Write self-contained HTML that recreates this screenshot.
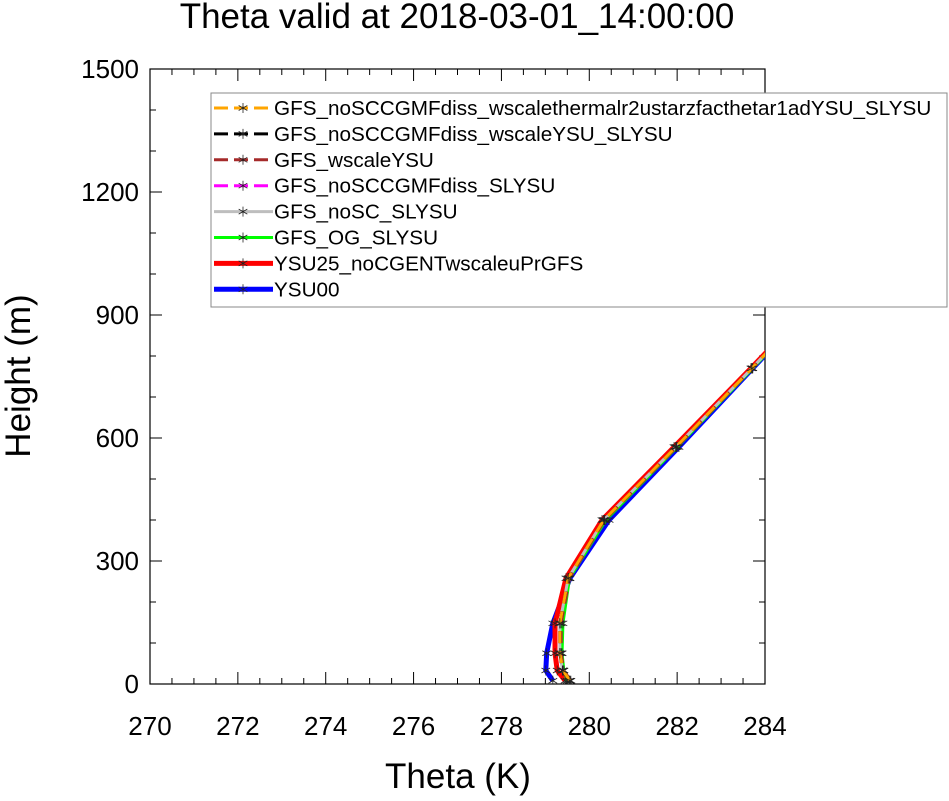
<!DOCTYPE html>
<html><head><meta charset="utf-8"><style>
body{margin:0;background:#fff;}
svg{font-family:"Liberation Sans",sans-serif;}
</style></head><body>
<svg id="chart" width="949" height="796" viewBox="0 0 949 796" xmlns="http://www.w3.org/2000/svg">
<defs><clipPath id="plotclip"><rect x="150" y="69" width="615" height="615"/></clipPath></defs>
<text x="457" y="28" font-size="35" text-anchor="middle">Theta valid at 2018-03-01_14:00:00</text>
<g id="axes"></g>
<g id="series" clip-path="url(#plotclip)"></g>
<text x="458" y="788" font-size="35" text-anchor="middle">Theta (K)</text>
<text transform="translate(30,376) rotate(-90)" font-size="35" text-anchor="middle">Height (m)</text>
<g id="legend"></g>
</svg>
<script>
const heights=[8,33,75,148,258,400,578,770,985];
const seriesNames=["GFS_noSCCGMFdiss_wscalethermalr2ustarzfacthetar1adYSU_SLYSU","GFS_noSCCGMFdiss_wscaleYSU_SLYSU","GFS_wscaleYSU","GFS_noSCCGMFdiss_SLYSU","GFS_noSC_SLYSU","GFS_OG_SLYSU","YSU25_noCGENTwscaleuPrGFS","YSU00"];
const sOrange=[279.56,279.40,279.33,279.33,279.52,280.33,281.97,283.70,285.6];
const sBlack=[279.55,279.39,279.33,279.33,279.52,280.33,281.97,283.70,285.6];
const sBrown=[279.58,279.42,279.36,279.36,279.55,280.35,281.99,283.71,285.6];
const sMagenta=[279.55,279.39,279.33,279.33,279.52,280.33,281.97,283.70,285.6];
const sGray=[279.55,279.39,279.33,279.33,279.52,280.33,281.97,283.70,285.6];
const sGreen=[279.50,279.42,279.38,279.40,279.55,280.38,282.00,283.72,285.6];
const sRed=[279.45,279.27,279.22,279.22,279.47,280.29,281.93,283.68,285.6];
const sBlue=[279.17,279.01,279.03,279.17,279.56,280.45,282.04,283.72,285.6];
const xTicks=[270,272,274,276,278,280,282,284];
const yTicks=[0,300,600,900,1200,1500];
const NS="http://www.w3.org/2000/svg";
const X0=150,X1=765,Y0=684,Y1=69;
const xs=t=>X0+(t-270)/14*(X1-X0);
const ys=h=>Y0-h/1500*(Y0-Y1);
function mk(tag,attrs,parent){const e=document.createElementNS(NS,tag);for(const k in attrs)e.setAttribute(k,attrs[k]);parent.appendChild(e);return e;}
const axes=document.getElementById('axes');
const frame=mk('rect',{x:X0,y:Y1,width:X1-X0,height:Y0-Y1,fill:'none',stroke:'#000','stroke-width':1.2},axes);


for(let t=270;t<=284.001;t+=0.5){const maj=Math.abs(t-Math.round(t/2)*2)<1e-6;const L=maj?12:6;const x=xs(t);
mk('line',{x1:x,y1:Y0,x2:x,y2:Y0-L,stroke:'#000','stroke-width':1},axes);
mk('line',{x1:x,y1:Y1,x2:x,y2:Y1+L,stroke:'#000','stroke-width':1},axes);}
for(let h=0;h<=1500;h+=100){const maj=h%300===0;const L=maj?12:6;const y=ys(h);
mk('line',{x1:X0,y1:y,x2:X0+L,y2:y,stroke:'#000','stroke-width':1},axes);
mk('line',{x1:X1,y1:y,x2:X1-L,y2:y,stroke:'#000','stroke-width':1},axes);}
xTicks.forEach(t=>{const e=mk('text',{x:xs(t),y:Y0+51,'font-size':26,'text-anchor':'middle'},axes);e.textContent=t;

});
yTicks.forEach(h=>{const e=mk('text',{x:X0-11,y:ys(h)+9,'font-size':26,'text-anchor':'end'},axes);e.textContent=h;

});
const styles=[
{d:sOrange,c:'#ffa500',w:3,dash:'12 8'},
{d:sBlack,c:'#000',w:3,dash:'12 8'},
{d:sBrown,c:'#a52a2a',w:3,dash:'12 8'},
{d:sMagenta,c:'#ff00ff',w:3,dash:'12 8'},
{d:sGray,c:'#bebebe',w:3,dash:''},
{d:sGreen,c:'#00ff00',w:3,dash:''},
{d:sRed,c:'#ff0000',w:5,dash:''},
{d:sBlue,c:'#0000ff',w:5,dash:''}];
const sg=document.getElementById('series');
function star(g,x,y){[[0,5],[60,5],[120,5]].forEach(([a,r])=>{const rad=a*Math.PI/180;mk('line',{x1:x-r*Math.sin(rad),y1:y-r*Math.cos(rad),x2:x+r*Math.sin(rad),y2:y+r*Math.cos(rad),stroke:'#222','stroke-width':0.8},g);});}
for(let i=styles.length-1;i>=0;i--){const s=styles[i];const g=mk('g',{},sg);


const pts=s.d.map((t,j)=>xs(t)+','+ys(heights[j])).join(' ');
mk('polyline',{points:pts,fill:'none',stroke:s.c,'stroke-width':s.w,'stroke-dasharray':s.dash},g);
s.d.forEach((t,j)=>star(g,xs(t),ys(heights[j])));}
const lg=document.getElementById('legend');
const box=mk('rect',{x:211,y:93,width:736,height:214,fill:'#fff',stroke:'#888','stroke-width':1},lg);


styles.forEach((s,i)=>{const y=108+i*25.9;const g=mk('g',{},lg);


mk('line',{x1:214,y1:y,x2:273,y2:y,stroke:s.c,'stroke-width':s.w,'stroke-dasharray':s.dash?'14 6':''},g);
star(g,243,y);
const t=mk('text',{x:274,y:y+7,'font-size':20.7},g);t.textContent=seriesNames[i];});
</script>
</body></html>
